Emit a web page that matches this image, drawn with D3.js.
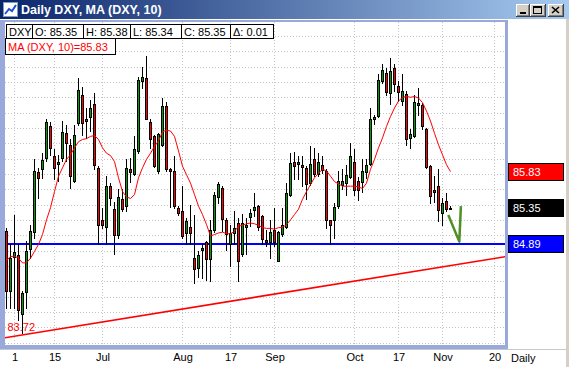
<!DOCTYPE html>
<html>
<head>
<meta charset="utf-8">
<script src="https://cdn.jsdelivr.net/npm/d3@7"></script>
<style>
  body { margin: 0; background: #d4d0c8; }
  svg { display: block; }
  text { font-family: "Liberation Sans", Arial, sans-serif; }
</style>
</head>
<body>
<svg id="chart" width="569" height="367"></svg>
<script>
// ---- data (daily DXY bars, index 0 = 1 June) ----
const firstIndex = -2;
const opens = [85.05,84.27,84.72,84.74,83.97,84.26,84.81,85.05,85.83,85.86,86.01,86.43,86.03,85.92,86.01,86.33,86.18,85.71,86.46,86.83,86.49,86.54,86.71,85.88,85.20,85.10,85.64,85.34,85.00,85.47,85.38,85.87,85.81,86.09,87.02,87.05,86.48,86.29,85.84,86.18,86.68,85.87,85.84,85.36,85.32,85.03,85.11,84.70,84.57,84.80,84.91,84.69,85.07,85.50,85.61,85.20,84.89,85.03,85.16,84.76,85.12,85.24,85.33,85.38,85.25,84.94,84.91,85.07,84.66,85.02,85.11,85.52,85.96,85.93,85.91,85.88,85.68,85.99,85.79,85.92,85.84,85.20,85.20,85.38,85.66,85.68,85.77,85.96,85.71,85.70,85.83,85.92,86.52,86.55,87.01,87.11,86.85,87.18,86.95,86.75,86.84,86.27,86.29,86.70,86.70,86.38,85.90,85.59,85.64,85.29,85.45,85.35];
const highs = [85.10,84.88,85.27,84.88,84.27,84.92,85.14,86.00,85.88,86.07,86.51,86.48,86.13,86.05,86.49,86.44,86.25,86.44,87.05,86.94,86.66,86.77,86.86,85.90,85.36,85.77,85.68,85.44,85.60,85.60,85.99,86.01,86.29,87.07,87.19,87.34,86.51,86.31,86.34,86.79,86.74,85.88,86.03,85.38,85.64,85.23,85.39,85.27,84.80,84.89,84.92,85.20,85.57,85.70,85.64,85.23,85.14,85.31,85.22,85.28,85.23,85.34,85.55,85.40,85.27,85.07,85.20,85.36,85.05,85.35,85.68,86.07,86.08,86.03,86.03,85.90,86.16,86.14,86.07,86.03,85.86,85.20,85.42,85.84,85.86,85.92,86.21,86.12,85.76,85.99,85.99,86.66,86.57,87.10,87.23,87.18,87.31,87.23,87.01,87.10,86.88,86.38,86.83,86.92,86.73,86.40,85.92,85.77,85.87,85.49,85.55,85.38];
const lows = [84.05,84.05,84.05,83.89,83.72,84.05,84.70,84.97,85.49,85.75,85.97,86.05,85.73,85.71,85.97,85.97,85.62,85.70,86.44,86.31,86.27,86.36,85.86,84.88,85.10,84.89,85.40,84.75,84.97,85.31,85.31,85.70,85.79,86.07,86.92,86.51,86.14,85.89,85.81,86.16,85.84,85.37,85.36,85.27,84.97,84.89,84.88,84.38,84.45,84.44,84.41,84.40,85.04,85.42,85.05,84.81,84.60,84.88,84.40,84.73,84.75,85.12,85.25,85.07,84.89,84.86,84.71,84.86,84.66,84.99,85.09,85.51,85.74,85.73,85.64,85.47,85.66,85.77,85.77,85.81,85.10,84.89,84.97,85.36,85.60,85.53,85.75,85.53,85.46,85.57,85.75,85.91,86.45,86.54,86.99,86.83,86.71,86.88,86.75,86.70,86.18,86.14,86.28,86.57,86.39,85.88,85.42,85.44,85.19,85.14,85.31,85.34];
const closes = [84.27,84.70,84.78,84.02,84.25,84.80,85.05,85.84,85.75,85.98,86.48,86.14,85.87,85.95,86.35,86.20,85.77,86.31,86.89,86.47,86.52,86.66,85.91,85.14,85.14,85.64,85.48,85.00,85.50,85.34,85.88,85.83,86.13,87.02,87.07,86.52,86.26,85.90,86.32,86.69,85.86,85.84,85.38,85.29,85.00,85.18,85.03,84.56,84.74,84.83,84.69,85.07,85.52,85.67,85.20,85.02,85.03,85.10,84.66,85.16,85.14,85.29,85.37,85.10,84.95,84.92,85.04,84.91,85.04,85.14,85.55,85.94,85.91,85.95,85.89,85.67,85.93,85.80,85.95,85.86,85.20,85.14,85.37,85.71,85.71,85.78,86.04,85.59,85.59,85.84,85.92,86.51,86.54,87.02,87.15,86.86,87.14,86.97,86.87,86.88,86.25,86.32,86.74,86.73,86.42,85.89,85.51,85.57,85.33,85.42,85.34,85.35];
const ma10 = [84.67,84.72,84.73,84.70,84.64,84.64,84.70,84.79,84.88,85.01,85.20,85.36,85.57,85.77,85.88,85.99,86.05,86.14,86.22,86.25,86.26,86.29,86.30,86.25,86.14,86.07,86.04,85.96,85.75,85.57,85.50,85.48,85.53,85.75,85.88,85.99,86.07,86.16,86.23,86.35,86.37,86.36,86.29,86.10,85.90,85.79,85.68,85.53,85.38,85.27,85.14,84.99,85.01,85.03,85.04,85.02,85.02,85.05,85.12,85.13,85.15,85.16,85.15,85.13,85.10,85.09,85.09,85.08,85.10,85.10,85.14,85.20,85.27,85.34,85.47,85.57,85.66,85.75,85.81,85.86,85.84,85.77,85.70,85.67,85.64,85.64,85.64,85.64,85.63,85.61,85.68,85.86,85.99,86.14,86.27,86.42,86.55,86.66,86.75,86.80,86.81,86.80,86.81,86.79,86.73,86.62,86.49,86.33,86.18,86.05,85.92,85.83];

// axis ticks
const dateTickIndex = [0, 10, 22, 42, 54, 65, 85, 96, 107, 120];
const dateTickLabels = ["1", "15", "Jul", "Aug", "17", "Sep", "Oct", "17", "Nov", "20"];
const priceTicks = [83.6, 83.8, 84.0, 84.2, 84.4, 84.6, 84.8, 85.0, 85.2, 85.4, 85.6, 85.8, 86.0, 86.2, 86.4, 86.6, 86.8, 87.0, 87.2, 87.4, 87.6, 87.8];

// drawn studies
const supportLevel = 84.89;
const trendAnchors = [{i: 2, v: 83.70}, {i: 122.6, v: 84.72}];
const lowMark = {i: -2, v: 83.72, label: "83.72"};
const vSketch = [{i: 108.45, v: 85.265}, {i: 111.2, v: 84.917}, {i: 111.6, v: 85.38}];

const bars = opens.map((o, k) => ({
  i: firstIndex + k, o: o, h: highs[k], l: lows[k], c: closes[k], ma: ma10[k]
}));
const last = bars[bars.length - 1];
const prev = bars[bars.length - 2];

// ---- layout ----
const svg = d3.select("#chart");
const plot = {left: 5, right: 505, top: 22, bottom: 345};

const x = d3.scaleLinear().domain([-2.375, 122.625]).range([plot.left, plot.right]);
const y = d3.scaleLinear().domain([83.6, 87.8]).range([342.6, 20.6]);

const defs = svg.append("defs");
const grad = defs.append("linearGradient").attr("id", "titleGrad");
grad.append("stop").attr("offset", "0%").attr("stop-color", "#0a246a");
grad.append("stop").attr("offset", "100%").attr("stop-color", "#a6caf0");
defs.append("clipPath").attr("id", "plotClip").append("rect")
  .attr("x", plot.left).attr("y", plot.top)
  .attr("width", plot.right - plot.left).attr("height", plot.bottom - plot.top);
defs.append("clipPath").attr("id", "axisClip").append("rect")
  .attr("x", 508).attr("y", 22).attr("width", 58).attr("height", 321);

// window pieces
svg.append("rect").attr("x", 0).attr("y", 0).attr("width", 569).attr("height", 19)
  .attr("fill", "url(#titleGrad)");
svg.append("rect").attr("x", 0).attr("y", 19).attr("width", 566).attr("height", 348).attr("fill", "#fff");

const icon = svg.append("g");
icon.append("rect").attr("x", 3.5).attr("y", 2.5).attr("width", 14).attr("height", 14)
  .attr("fill", "#fff").attr("stroke", "#7f9db9");
icon.append("path").attr("d", "M5,14 L9,9 L12,11 L16,5")
  .attr("fill", "none").attr("stroke", "#2050d0").attr("stroke-width", 2);
svg.append("text").attr("x", 21).attr("y", 14)
  .attr("fill", "#fff").attr("font-weight", "bold").attr("font-size", 12.5)
  .text("Daily DXY, MA (DXY, 10)");

const buttons = [{x: 516, w: 14, kind: "min"}, {x: 530, w: 16, kind: "max"}, {x: 548, w: 16, kind: "close"}];
buttons.forEach(b => {
  const g = svg.append("g");
  g.append("rect").attr("x", b.x).attr("y", 4).attr("width", b.w).attr("height", 13).attr("fill", "#404040");
  g.append("rect").attr("x", b.x).attr("y", 4).attr("width", b.w - 1).attr("height", 12).attr("fill", "#fff");
  g.append("rect").attr("x", b.x + 1).attr("y", 5).attr("width", b.w - 2).attr("height", 11).attr("fill", "#808080");
  g.append("rect").attr("x", b.x + 1).attr("y", 5).attr("width", b.w - 3).attr("height", 10).attr("fill", "#d4d0c8");
  if (b.kind === "min") {
    g.append("rect").attr("x", b.x + 4).attr("y", 12).attr("width", 6).attr("height", 2).attr("fill", "#000");
  } else if (b.kind === "max") {
    g.append("rect").attr("x", b.x + 3.5).attr("y", 6.5).attr("width", 8).attr("height", 7)
      .attr("fill", "none").attr("stroke", "#000");
    g.append("rect").attr("x", b.x + 3).attr("y", 6).attr("width", 9).attr("height", 2).attr("fill", "#000");
  } else {
    g.append("path").attr("d", `M${b.x + 4},7 L${b.x + 11},13 M${b.x + 11},7 L${b.x + 4},13`)
      .attr("stroke", "#000").attr("stroke-width", 1.6);
  }
});

// frame around the plot
const frame = "#9aa9dc";
svg.append("rect").attr("x", 0).attr("y", 20).attr("width", 5).attr("height", 329).attr("fill", frame);
svg.append("rect").attr("x", 0).attr("y", 345).attr("width", 508).attr("height", 4).attr("fill", frame);
svg.append("rect").attr("x", 505).attr("y", 20).attr("width", 3).attr("height", 329).attr("fill", frame);
svg.append("rect").attr("x", 0).attr("y", 20).attr("width", 508).attr("height", 2).attr("fill", frame);
svg.append("line").attr("x1", 0).attr("x2", 566).attr("y1", 349.5).attr("y2", 349.5).attr("stroke", "#c8c8c8");
svg.append("rect").attr("x", 566).attr("y", 19).attr("width", 3).attr("height", 348).attr("fill", "#d4d0c8");

// grid
const grid = svg.append("g").attr("clip-path", "url(#plotClip)")
  .attr("stroke", "#c4c4c4").attr("stroke-dasharray", "1,2");
grid.selectAll(".gy").data(priceTicks).join("line")
  .attr("x1", plot.left).attr("x2", plot.right)
  .attr("y1", d => Math.round(y(d)) + 0.5).attr("y2", d => Math.round(y(d)) + 0.5);
grid.selectAll(".gx").data(dateTickIndex).join("line")
  .attr("y1", plot.top).attr("y2", plot.bottom)
  .attr("x1", d => Math.floor(x(d)) + 0.5).attr("x2", d => Math.floor(x(d)) + 0.5);

const chart = svg.append("g").attr("clip-path", "url(#plotClip)");

// trend line and support level
const tx = d3.scaleLinear().domain(trendAnchors.map(d => d.i)).range(trendAnchors.map(d => d.v));
chart.append("line")
  .attr("x1", x(-3)).attr("y1", y(tx(-3)))
  .attr("x2", x(124)).attr("y2", y(tx(124)))
  .attr("stroke", "#ff0000").attr("stroke-width", 1.6);
chart.append("line")
  .attr("x1", plot.left).attr("x2", plot.right)
  .attr("y1", Math.round(y(supportLevel))).attr("y2", Math.round(y(supportLevel)))
  .attr("stroke", "#0000ff").attr("stroke-width", 2);

// candles
const cx = d => Math.floor(x(d.i)) + 0.5;
chart.selectAll(".wick").data(bars).join("line")
  .attr("x1", cx).attr("x2", cx)
  .attr("y1", d => Math.round(y(d.h))).attr("y2", d => Math.round(y(d.l)) + 1)
  .attr("stroke", "#000");
chart.selectAll(".body").data(bars).join("rect")
  .attr("x", d => cx(d) - 1)
  .attr("y", d => Math.round(y(Math.max(d.o, d.c))) + 0.5)
  .attr("width", 2)
  .attr("height", d => Math.max(1, Math.round(Math.abs(y(d.o) - y(d.c)))))
  .attr("fill", d => d.c >= d.o ? "#00a000" : "#ff0000")
  .attr("stroke", "#000");

// moving average
chart.append("path").datum(bars)
  .attr("d", d3.line().x(d => x(d.i)).y(d => y(d.ma)))
  .attr("fill", "none").attr("stroke", "#ff0000").attr("stroke-width", 1);

// hand-drawn V
chart.append("path").datum(vSketch)
  .attr("d", d3.line().x(d => x(d.i)).y(d => y(d.v)))
  .attr("fill", "none").attr("stroke", "#4f8f23").attr("stroke-width", 2.5)
  .attr("stroke-linejoin", "round");

// low label
chart.append("text").attr("x", x(lowMark.i) + 1).attr("y", y(lowMark.v) - 2)
  .attr("fill", "#ff0000").attr("font-size", 11).text(lowMark.label);

// price axis; labels hidden under the value flags are left out
const flags = [
  {v: last.ma, fill: "#ff0000"},
  {v: last.c, fill: "#000000"},
  {v: supportLevel, fill: "#0000ff"}
];
const shownTicks = priceTicks.filter(t => flags.every(f => Math.abs(y(t) - y(f.v)) > 8));
const yAxis = svg.append("g").attr("clip-path", "url(#axisClip)")
  .attr("transform", `translate(${plot.right},0)`)
  .call(d3.axisRight(y).tickValues(shownTicks).tickSize(0).tickPadding(8).tickFormat(d3.format(".2f")));
yAxis.select(".domain").remove();
yAxis.selectAll("text").attr("font-size", 11).attr("font-family", null).attr("fill", "#000");

flags.forEach(f => {
  const yy = Math.round(y(f.v));
  svg.append("rect").attr("x", 508.5).attr("y", yy - 8.5).attr("width", 55).attr("height", 17)
    .attr("fill", f.fill).attr("stroke", "#000");
  svg.append("text").attr("x", 513).attr("y", yy).attr("dy", "0.36em")
    .attr("font-size", 11).attr("fill", "#fff").text(d3.format(".2f")(f.v));
});

// date axis
const xAxis = svg.append("g").attr("transform", "translate(0,349)")
  .call(d3.axisBottom(x).tickValues(dateTickIndex).tickSize(0).tickPadding(4)
    .tickFormat((d, k) => dateTickLabels[k]));
xAxis.select(".domain").remove();
xAxis.selectAll("text").attr("font-size", 11).attr("font-family", null).attr("fill", "#000");
svg.append("text").attr("x", 511).attr("y", 362).attr("font-size", 11).text("Daily");

// info boxes
const infoCells = [
  {t: "DXY", x0: 5.5, x1: 32},
  {t: "O: " + last.o.toFixed(2), x0: 32, x1: 82.5},
  {t: "H: " + last.h.toFixed(2), x0: 82.5, x1: 130},
  {t: "L: " + last.l.toFixed(2), x0: 130, x1: 180.5},
  {t: "C: " + last.c.toFixed(2), x0: 180.5, x1: 230},
  {t: "\u0394: " + (last.c - prev.c).toFixed(2), x0: 230, x1: 272.5}
];
const info = svg.append("g");
infoCells.forEach(cell => {
  info.append("rect").attr("x", Math.round(cell.x0) + 0.5).attr("y", 24.5)
    .attr("width", Math.round(cell.x1) - Math.round(cell.x0)).attr("height", 14)
    .attr("fill", "#fff").attr("stroke", "#000");
  info.append("text").attr("x", Math.round(cell.x0) + 3).attr("y", 35.5)
    .attr("font-size", 11).text(cell.t);
});
info.append("rect").attr("x", 5.5).attr("y", 38.5).attr("width", 110).attr("height", 16)
  .attr("fill", "#fff").attr("stroke", "#000");
info.append("text").attr("x", 8).attr("y", 50.5).attr("font-size", 11).attr("fill", "#ff0000")
  .text("MA (DXY, 10)=" + last.ma.toFixed(2));
</script>
</body>
</html>
